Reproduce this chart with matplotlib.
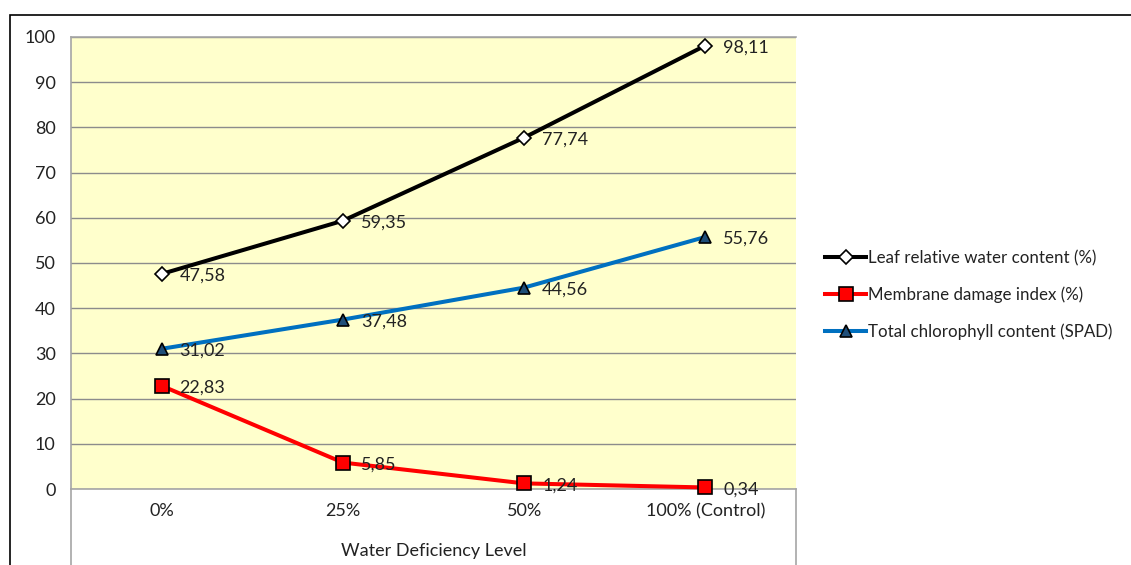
import matplotlib.pyplot as plt
from matplotlib.lines import Line2D
from matplotlib.patches import Rectangle

plt.rcParams['font.family'] = ['Lato', 'DejaVu Sans']

levels = ['0%', '25%', '50%', '100% (Control)']
leaf_water = [47.58, 59.35, 77.74, 98.11]
membrane_damage = [22.83, 5.85, 1.24, 0.34]
chlorophyll = [31.02, 37.48, 44.56, 55.76]

W, H = 1131, 565
FS = 13
fig = plt.figure(figsize=(W / 100, H / 100), dpi=100)

# outer chart border (runs off the right and bottom edges)
fig.patches.append(Rectangle((10 / W, -0.1), 1.2, 1 - 15 / H + 0.1, transform=fig.transFigure,
                             fill=False, edgecolor='black', linewidth=1.2))

L, R, T, B = 71, 796, 37, 489
ax = fig.add_axes([L / W, 1 - B / H, (R - L) / W, (B - T) / H])
ax.set_facecolor('#FFFFCC')
x = list(range(len(levels)))

series = [
    (leaf_water, 'Leaf relative water content (%)', 'black', 'D', 'white', 7),
    (membrane_damage, 'Membrane damage index (%)', '#FF0000', 's', '#FF0000', 9.5),
    (chlorophyll, 'Total chlorophyll content (SPAD)', '#0070C0', '^', '#1F4E79', 9),
]
handles = []
for vals, name, col, mk, mfc, ms in series:
    h, = ax.plot(x, vals, color=col, lw=2.9, marker=mk, markersize=ms,
                 markerfacecolor=mfc, markeredgecolor='black', markeredgewidth=1.2,
                 label=name, zorder=3, clip_on=False)
    handles.append(h)
    for xi, v in zip(x, vals):
        ax.annotate(f'{v:.2f}'.replace('.', ','), (xi, v), xytext=(13, -1.5),
                    textcoords='offset points', va='center', ha='left',
                    fontsize=FS, color='#222222', zorder=4)

ax.set_xlim(-0.5, 3.5)
ax.set_ylim(0, 100)
ax.set_yticks(range(0, 101, 10))
ax.set_xticks(x)
ax.set_xticklabels(levels)
ax.tick_params(axis='both', length=0, labelsize=FS, colors='#222222')
ax.tick_params(axis='y', pad=11)
ax.tick_params(axis='x', pad=10)
ax.grid(axis='y', color='#8C8C8C', lw=1)
ax.set_axisbelow(True)
for s in ['top', 'left', 'bottom']:
    ax.spines[s].set_color('#A6A6A6')
    ax.spines[s].set_linewidth(1.2)
ax.spines['right'].set_visible(False)

# plot-area border continues below the category axis
fig.add_artist(Line2D([L / W, L / W], [0, 1 - B / H], color='#A6A6A6', lw=1.2))
fig.add_artist(Line2D([R / W, R / W], [0, 1 - B / H], color='#A6A6A6', lw=1.2))

fig.text((L + R) / 2 / W, 1 - 551 / H, 'Water Deficiency Level', ha='center', va='center',
         fontsize=FS, color='#222222')

fig.legend(handles=handles, loc='center left', bbox_to_anchor=(810 / W, 1 - 295 / H),
           frameon=False, fontsize=12.2, handlelength=2.4, handletextpad=0.15,
           labelspacing=1.2, labelcolor='#222222')

fig.savefig('out.png', dpi=100)
